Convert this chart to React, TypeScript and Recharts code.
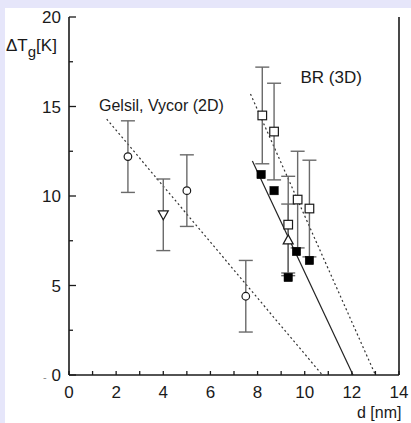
import React from 'react';
import { ComposedChart, Scatter, XAxis, YAxis, ErrorBar, ReferenceLine } from 'recharts';

// ---- axis ticks ----
const xTicks = [0, 1, 2, 3, 4, 5, 6, 7, 8, 9, 10, 11, 12, 13, 14];
const xLabelTicks = [0, 2, 4, 6, 8, 10, 12, 14];
const yTicks = [0, 2.5, 5, 7.5, 10, 12.5, 15, 17.5, 20];
const yLabelTicks = [0, 5, 10, 15, 20];

// ---- Gelsil, Vycor (2D) ----
const gelsilX = [2.5, 5, 7.5];
const gelsilY = [12.2, 10.3, 4.4];
const gelsilErr = [2, 2, 2];
const vycorX = [4];
const vycorY = [8.95];
const vycorErr = [2];

// ---- BR (3D) ----
const brOpenX = [8.2, 8.7, 9.3, 9.7, 10.2];
const brOpenY = [14.5, 13.6, 8.4, 9.8, 9.3];
const brOpenErr = [2.7, 2.7, 2.7, 2.7, 2.7];
const brFilledX = [8.15, 8.7, 9.3, 9.65, 10.2];
const brFilledY = [11.2, 10.3, 5.45, 6.9, 6.4];
const brTriX = [9.3];
const brTriY = [7.55];
const brTriErr = [2];

// ---- fit lines (x, y end points) ----
const fit2DX = [1.6, 10.75];
const fit2DY = [14.3, 0];
const fitBRSolidX = [7.78, 12.05];
const fitBRSolidY = [11.95, 0];
const fitBRDashX = [7.7, 13.0];
const fitBRDashY = [15.7, 0];

const zip = (xs: number[], ys: number[], es?: number[]) =>
  xs.map((x, i) => (es ? { x, y: ys[i], e: es[i] } : { x, y: ys[i] }));
const seg = (xs: number[], ys: number[]) => xs.map((x, i) => ({ x, y: ys[i] }));

const FONT = '"Liberation Sans", Arial, Helvetica, sans-serif';
const INK = '#1a1a1a';
const ERR = '#6a6a6a';

const LeftTick = (p: any) => {
  const { x, y, payload } = p;
  const v = payload.value;
  const major = yLabelTicks.includes(v);
  return (
    <g>
      <line x1={x} x2={x + (major ? 7 : 4)} y1={y} y2={y} stroke={INK} strokeWidth={1.3} />
      {major && (
        <text x={x - 8} y={y} dy="0.36em" textAnchor="end" fontFamily={FONT} fontSize={17} fill={INK}>
          {v}
        </text>
      )}
    </g>
  );
};

const RightTick = (p: any) => {
  const { x, y } = p;
  return <line x1={x} x2={x - 5} y1={y} y2={y} stroke={INK} strokeWidth={1.3} />;
};

const BottomTick = (p: any) => {
  const { x, y, payload } = p;
  const v = payload.value;
  const lab = xLabelTicks.includes(v);
  return (
    <g>
      <line x1={x} x2={x} y1={y} y2={y - 4} stroke={INK} strokeWidth={1.3} />
      {lab && (
        <text x={x} y={y + 17} dy="0.36em" textAnchor="middle" fontFamily={FONT} fontSize={17} fill={INK}>
          {v}
        </text>
      )}
    </g>
  );
};

const OpenCircle = (p: any) => (
  <circle cx={p.cx} cy={p.cy} r={3.8} fill="#fff" stroke={INK} strokeWidth={1.2} />
);
const OpenSquare = (p: any) => (
  <rect x={p.cx - 4.3} y={p.cy - 4.3} width={8.6} height={8.6} fill="#fff" stroke={INK} strokeWidth={1.2} />
);
const FilledSquare = (p: any) => (
  <rect x={p.cx - 4.2} y={p.cy - 4.2} width={8.4} height={8.4} fill="#000" stroke="#000" strokeWidth={0.5} />
);
const TriDown = (p: any) => (
  <path
    d={`M${p.cx - 5},${p.cy - 4} L${p.cx + 5},${p.cy - 4} L${p.cx},${p.cy + 5} Z`}
    fill="#fff"
    stroke={INK}
    strokeWidth={1.2}
  />
);
const TriUp = (p: any) => (
  <path
    d={`M${p.cx - 5},${p.cy + 4} L${p.cx + 5},${p.cy + 4} L${p.cx},${p.cy - 5} Z`}
    fill="#fff"
    stroke={INK}
    strokeWidth={1.2}
  />
);

export default function App() {
  return (
    <div style={{ position: 'absolute', left: 0, top: 0, width: 411, height: 423, background: '#e6e6fa', overflow: 'hidden' }}>
      <div style={{ position: 'absolute', left: 5, top: 8, right: 0, bottom: 0, background: '#fff' }} />
      <div style={{ position: 'absolute', left: 0, top: 0 }}>
        <ComposedChart width={411} height={423} margin={{ top: 17, right: 0, bottom: 0, left: 0 }}>
          <XAxis
            type="number"
            dataKey="x"
            domain={[0, 14]}
            ticks={xTicks}
            interval={0}
            height={48}
            tickSize={0}
            tickMargin={0}
            tickLine={false}
            tick={<BottomTick />}
            axisLine={{ stroke: INK, strokeWidth: 1.6 }}
            allowDataOverflow
          />
          <XAxis
            xAxisId="top"
            orientation="top"
            type="number"
            domain={[0, 14]}
            height={0}
            tick={false}
            tickLine={false}
            axisLine={{ stroke: INK, strokeWidth: 1.4 }}
          />
          <YAxis
            type="number"
            dataKey="y"
            domain={[0, 20]}
            ticks={yTicks}
            interval={0}
            width={69}
            tickSize={0}
            tickMargin={0}
            tickLine={false}
            tick={<LeftTick />}
            axisLine={{ stroke: INK, strokeWidth: 1.6 }}
            allowDataOverflow
          />
          <YAxis
            yAxisId="right"
            orientation="right"
            type="number"
            domain={[0, 20]}
            ticks={yTicks}
            interval={0}
            width={12}
            tickSize={0}
            tickMargin={0}
            tickLine={false}
            tick={<RightTick />}
            axisLine={{ stroke: INK, strokeWidth: 1.6 }}
          />

          <ReferenceLine segment={seg(fit2DX, fit2DY)} stroke="#333" strokeWidth={1.2} strokeDasharray="2 2.6" ifOverflow="visible" />
          <ReferenceLine segment={seg(fitBRDashX, fitBRDashY)} stroke="#333" strokeWidth={1.2} strokeDasharray="2 2.6" ifOverflow="visible" />
          <ReferenceLine segment={seg(fitBRSolidX, fitBRSolidY)} stroke="#222" strokeWidth={1.2} ifOverflow="visible" />

          <Scatter data={zip(gelsilX, gelsilY, gelsilErr)} shape={<OpenCircle />} isAnimationActive={false}>
            <ErrorBar dataKey="e" direction="y" width={7} stroke={ERR} strokeWidth={1.4} />
          </Scatter>
          <Scatter data={zip(vycorX, vycorY, vycorErr)} shape={<TriDown />} isAnimationActive={false}>
            <ErrorBar dataKey="e" direction="y" width={7} stroke={ERR} strokeWidth={1.4} />
          </Scatter>
          <Scatter data={zip(brTriX, brTriY, brTriErr)} shape={<TriUp />} isAnimationActive={false}>
            <ErrorBar dataKey="e" direction="y" width={7} stroke={ERR} strokeWidth={1.4} />
          </Scatter>
          <Scatter data={zip(brOpenX, brOpenY, brOpenErr)} shape={<OpenSquare />} isAnimationActive={false}>
            <ErrorBar dataKey="e" direction="y" width={7} stroke={ERR} strokeWidth={1.4} />
          </Scatter>
          <Scatter data={zip(brFilledX, brFilledY)} shape={<FilledSquare />} isAnimationActive={false} />
        </ComposedChart>
      </div>
      <svg width={411} height={423} style={{ position: 'absolute', left: 0, top: 0, pointerEvents: 'none' }}>
        <text x={99} y={110.5} fontFamily={FONT} fontSize={16} fill={INK}>Gelsil, Vycor (2D)</text>
        <text x={300.5} y={82.7} fontFamily={FONT} fontSize={17} fill={INK}>BR (3D)</text>
        <text x={357} y={418} fontFamily={FONT} fontSize={16} fill={INK}>d [nm]</text>
        <text x={6} y={51} fontFamily={FONT} fontSize={17} fill={INK}>
          ΔT<tspan dy={6} fontSize={15}>g</tspan><tspan dy={-6}>[K]</tspan>
        </text>
        <text x={43} y={381} fontFamily={FONT} fontSize={11} fill="#888">-</text>
      </svg>
    </div>
  );
}
